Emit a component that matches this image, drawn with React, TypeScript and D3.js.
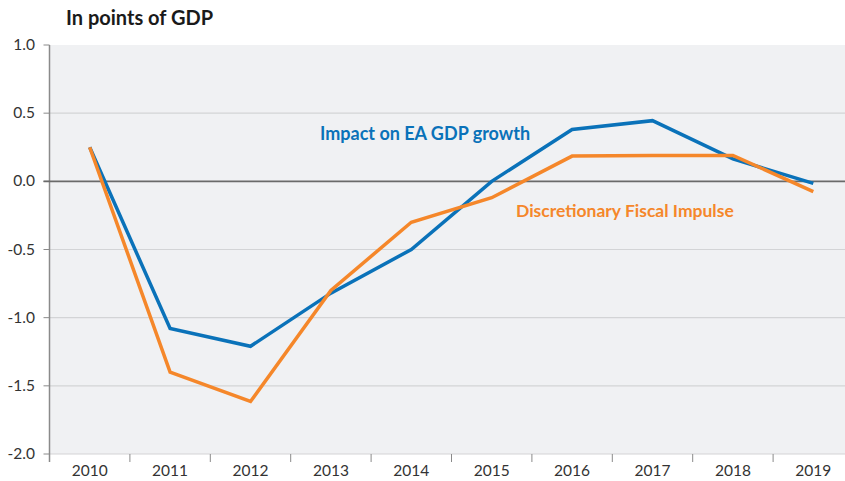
import React, { useEffect, useRef } from "react";
import * as d3 from "d3";

const years = ["2010", "2011", "2012", "2013", "2014", "2015", "2016", "2017", "2018", "2019"];
const gdpImpact = [0.25, -1.08, -1.21, -0.82, -0.5, 0.0, 0.38, 0.445, 0.165, -0.015];
const fiscalImpulse = [0.25, -1.4, -1.615, -0.8, -0.3, -0.12, 0.185, 0.19, 0.19, -0.075];
const yTicks = [1.0, 0.5, 0.0, -0.5, -1.0, -1.5, -2.0];

const FONT = "Lato, 'Open Sans', sans-serif";
const BLUE = "#0a72b9";
const ORANGE = "#f5872a";

const App = () => {
  const svgRef = useRef<SVGSVGElement>(null);

  useEffect(() => {
    const svg = d3.select(svgRef.current);
    const width = 845;
    const left = 49.5;
    const top = 45;
    const bottom = 454;

    svg.selectAll("*").remove();

    const x = d3.scaleBand().domain(years).range([left, left + 804]);
    const y = d3.scaleLinear().domain([-2, 1]).range([bottom, top]);
    const cx = (i: number) => (x(years[i]) as number) + x.bandwidth() / 2;

    // plot background
    svg.append("rect")
      .attr("x", left)
      .attr("y", top)
      .attr("width", width - left)
      .attr("height", bottom - top)
      .attr("fill", "#f0f1f3");

    // gridlines
    svg.selectAll(".grid")
      .data(yTicks.filter((t) => t !== 0 && t !== 1))
      .enter()
      .append("line")
      .attr("x1", left)
      .attr("x2", width)
      .attr("y1", (d) => y(d))
      .attr("y2", (d) => y(d))
      .attr("stroke", "#d3d4d6")
      .attr("stroke-width", 1.2);

    // y tick marks and labels
    svg.selectAll(".ytick")
      .data(yTicks)
      .enter()
      .append("line")
      .attr("x1", left - 6)
      .attr("x2", left)
      .attr("y1", (d) => y(d))
      .attr("y2", (d) => y(d))
      .attr("stroke", "#8a8a8a")
      .attr("stroke-width", 1);

    svg.selectAll(".ylabel")
      .data(yTicks)
      .enter()
      .append("text")
      .attr("x", 35)
      .attr("y", (d) => y(d) + 5)
      .attr("text-anchor", "end")
      .attr("font-family", FONT)
      .attr("font-size", 15.5)
      .attr("fill", "#333")
      .text((d) => d.toFixed(1));

    // x ticks at band edges
    svg.selectAll(".xtick")
      .data(years)
      .enter()
      .append("line")
      .attr("x1", (d) => x(d) as number)
      .attr("x2", (d) => x(d) as number)
      .attr("y1", bottom)
      .attr("y2", bottom + 8)
      .attr("stroke", "#8a8a8a")
      .attr("stroke-width", 1);

    svg.selectAll(".xlabel")
      .data(years)
      .enter()
      .append("text")
      .attr("x", (d) => (x(d) as number) + x.bandwidth() / 2)
      .attr("y", 476)
      .attr("text-anchor", "middle")
      .attr("font-family", FONT)
      .attr("font-size", 15.5)
      .attr("fill", "#333")
      .text((d) => d);

    // left axis
    svg.append("line")
      .attr("x1", left)
      .attr("x2", left)
      .attr("y1", top)
      .attr("y2", bottom + 8)
      .attr("stroke", "#8a8a8a")
      .attr("stroke-width", 1.5);

    // zero line
    svg.append("line")
      .attr("x1", left - 6)
      .attr("x2", width)
      .attr("y1", y(0))
      .attr("y2", y(0))
      .attr("stroke", "#6a6a6a")
      .attr("stroke-width", 1.6);

    const line = d3.line<number>()
      .x((_, i) => cx(i))
      .y((d) => y(d));

    svg.append("path")
      .datum(gdpImpact)
      .attr("d", line)
      .attr("fill", "none")
      .attr("stroke", BLUE)
      .attr("stroke-width", 3.5);

    svg.append("path")
      .datum(fiscalImpulse)
      .attr("d", line)
      .attr("fill", "none")
      .attr("stroke", ORANGE)
      .attr("stroke-width", 3.5);

    // title
    svg.append("text")
      .attr("x", 66)
      .attr("y", 25)
      .attr("font-family", FONT)
      .attr("font-weight", "bold")
      .attr("font-size", 20)
      .attr("fill", "#1a1a1a")
      .text("In points of GDP");

    // series labels
    svg.append("text")
      .attr("x", 320)
      .attr("y", 140)
      .attr("font-family", FONT)
      .attr("font-weight", "bold")
      .attr("font-size", 18)
      .attr("fill", BLUE)
      .text("Impact on EA GDP growth");

    svg.append("text")
      .attr("x", 516)
      .attr("y", 217)
      .attr("font-family", FONT)
      .attr("font-weight", "bold")
      .attr("font-size", 17.5)
      .attr("fill", ORANGE)
      .text("Discretionary Fiscal Impulse");
  }, []);

  return (
    <svg
      ref={svgRef}
      width={845}
      height={481}
      style={{ position: "absolute", left: 0, top: 0, background: "#fff" }}
    ></svg>
  );
};

export default App;
